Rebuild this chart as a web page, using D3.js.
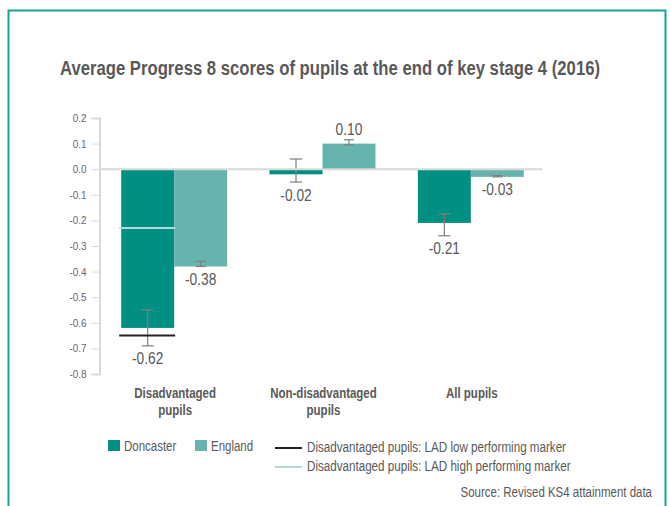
<!DOCTYPE html>
<html>
<head>
<meta charset="utf-8">
<script src="https://cdn.jsdelivr.net/npm/d3@7"></script>
<style>
  body { margin: 0; background: #fff; }
  text { font-family: "Liberation Sans", Arial, sans-serif; }
</style>
</head>
<body>
<svg id="frame" width="670" height="506"></svg>
<script>
// chart data
const categories = ["Disadvantaged pupils", "Non-disadvantaged pupils", "All pupils"];
const categoryLines = [["Disadvantaged", "pupils"], ["Non-disadvantaged", "pupils"], ["All pupils"]];
const series = ["Doncaster", "England"];
const doncaster = [-0.62, -0.02, -0.21];
const england = [-0.38, 0.10, -0.03];
// confidence intervals (low, high)
const doncasterLow = [-0.69, -0.05, -0.26];
const doncasterHigh = [-0.55, 0.04, -0.175];
const englandLow = [-0.38, 0.095, -0.03];
const englandHigh = [-0.36, 0.115, -0.025];
// LAD markers for disadvantaged pupils
const lowMarker = -0.65;
const highMarker = -0.23;
const yTicks = [0.2, 0.1, 0.0, -0.1, -0.2, -0.3, -0.4, -0.5, -0.6, -0.7, -0.8];

const colors = { Doncaster: "#009083", England: "#67b3ae" };
const capWidth = { Doncaster: 12, England: 10 };

// hyphen minus like the original
const loc = d3.formatLocale({ decimal: ".", thousands: ",", grouping: [3], currency: ["", ""], minus: "-" });
const f1 = loc.format(".1f"), f2 = loc.format(".2f");

// squeeze text horizontally to mimic a condensed face
function condense(sel, k) {
  sel.each(function() {
    const w = this.getComputedTextLength();
    d3.select(this).attr("textLength", w * k).attr("lengthAdjust", "spacingAndGlyphs");
  });
}

const svg = d3.select("#frame");

// outer frame
svg.append("path")
  .attr("d", "M8.5,506 V10.5 H665.5 V506")
  .attr("fill", "none")
  .attr("stroke", "#1aa394")
  .attr("stroke-width", 2);

svg.append("text")
  .attr("x", 330).attr("y", 75)
  .attr("text-anchor", "middle")
  .attr("font-size", 20).attr("font-weight", "bold")
  .attr("fill", "#595959")
  .text("Average Progress 8 scores of pupils at the end of key stage 4 (2016)")
  .attr("textLength", 540).attr("lengthAdjust", "spacingAndGlyphs");

const y = d3.scaleLinear().domain([-0.8, 0.2]).range([374, 118]);
const x0 = d3.scaleBand().domain(categories).range([100, 545]);
const x1 = d3.scaleBand().domain(series).range([0, x0.bandwidth()]).paddingOuter(0.4);

// y axis
const yAxis = svg.append("g")
  .attr("transform", "translate(99.5,0)")
  .call(d3.axisLeft(y).tickValues(yTicks).tickFormat(f1).tickSize(8).tickPadding(5));
yAxis.select(".domain").attr("stroke", "#d9d9d9").attr("stroke-width", 2);
yAxis.selectAll(".tick line").attr("stroke", "#d9d9d9");
yAxis.selectAll(".tick text")
  .attr("fill", "#666")
  .attr("font-size", 11)
  .style("font-family", "'Liberation Sans', Arial, sans-serif")
  .call(condense, 0.9);

// rows
const rows = categories.map((c, i) => [
  { cat: c, s: "Doncaster", v: doncaster[i], lo: doncasterLow[i], hi: doncasterHigh[i] },
  { cat: c, s: "England", v: england[i], lo: englandLow[i], hi: englandHigh[i] }
]).flat();

const chart = svg.append("g");

chart.selectAll("rect.bar")
  .data(rows)
  .join("rect")
  .attr("class", "bar")
  .attr("x", d => x0(d.cat) + x1(d.s))
  .attr("width", x1.bandwidth())
  .attr("y", d => y(Math.max(0, d.v)))
  .attr("height", d => Math.abs(y(d.v) - y(0)))
  .attr("fill", d => colors[d.s]);

// zero line
svg.append("line")
  .attr("x1", 99).attr("x2", 542)
  .attr("y1", y(0)).attr("y2", y(0))
  .attr("stroke", "#d9d9d9").attr("stroke-width", 2);

// markers for disadvantaged pupils (across Doncaster bar)
const mx = x0(categories[0]) + x1("Doncaster");
svg.append("line")
  .attr("x1", mx - 2).attr("x2", mx + x1.bandwidth() + 1)
  .attr("y1", y(highMarker)).attr("y2", y(highMarker))
  .attr("stroke", "#b4d9d6").attr("stroke-width", 2);
svg.append("line")
  .attr("x1", mx - 2).attr("x2", mx + x1.bandwidth() + 1)
  .attr("y1", y(lowMarker)).attr("y2", y(lowMarker))
  .attr("stroke", "#222").attr("stroke-width", 2);

// error bars
chart.selectAll("g.err")
  .data(rows)
  .join("g")
  .attr("class", "err")
  .attr("stroke", "#7f7f7f")
  .attr("stroke-width", 1.2)
  .each(function(d) {
    const g = d3.select(this);
    const cx = x0(d.cat) + x1(d.s) + x1.bandwidth() / 2;
    const w = capWidth[d.s] / 2;
    g.append("line").attr("x1", cx).attr("x2", cx).attr("y1", y(d.lo)).attr("y2", y(d.hi));
    g.append("line").attr("x1", cx - w).attr("x2", cx + w).attr("y1", y(d.lo)).attr("y2", y(d.lo));
    g.append("line").attr("x1", cx - w).attr("x2", cx + w).attr("y1", y(d.hi)).attr("y2", y(d.hi));
  });

// value labels
chart.selectAll("text.val")
  .data(rows)
  .join("text")
  .attr("class", "val")
  .attr("x", d => x0(d.cat) + x1(d.s) + x1.bandwidth() / 2)
  .attr("y", d => d.v < 0 ? y(Math.min(d.v, d.lo)) + 13 : y(Math.max(d.v, d.hi)) - 10)
  .attr("dy", "0.35em")
  .attr("text-anchor", "middle")
  .attr("font-size", 16)
  .attr("fill", "#595959")
  .text(d => f2(d.v))
  .call(condense, 0.86);

// category labels
svg.selectAll("text.cat")
  .data(categories)
  .join("text")
  .attr("class", "cat")
  .attr("x", d => x0(d) + x0.bandwidth() / 2 + 1)
  .attr("y", 398)
  .attr("text-anchor", "middle")
  .attr("font-size", 14).attr("font-weight", "bold")
  .attr("fill", "#595959")
  .each(function(d, i) {
    d3.select(this).selectAll("tspan")
      .data(categoryLines[i])
      .join("tspan")
      .attr("x", x0(d) + x0.bandwidth() / 2 + 1)
      .attr("dy", (t, j) => j === 0 ? 0 : 17)
      .text(t => t)
      .call(condense, 0.82);
  });

// legend
const leg = svg.append("g").attr("font-size", 14).attr("fill", "#595959");
[["Doncaster", 108], ["England", 195]].forEach(([s, lx]) => {
  leg.append("rect").attr("x", lx).attr("y", 440).attr("width", 12).attr("height", 11).attr("fill", colors[s]);
  leg.append("text").attr("x", lx + 16).attr("y", 446).attr("dy", "0.35em").text(s).call(condense, 0.82);
});
[["#222", 448, "Disadvantaged pupils: LAD low performing marker"],
 ["#b4d9d6", 467, "Disadvantaged pupils: LAD high performing marker"]].forEach(([c, ly, t]) => {
  leg.append("line").attr("x1", 275).attr("x2", 302).attr("y1", ly).attr("y2", ly).attr("stroke", c).attr("stroke-width", 2);
  leg.append("text").attr("x", 307).attr("y", ly - 1).attr("dy", "0.35em").text(t).call(condense, 0.83);
});

svg.append("text")
  .attr("x", 652).attr("y", 492).attr("dy", "0.35em")
  .attr("text-anchor", "end")
  .attr("font-size", 14)
  .attr("fill", "#595959")
  .text("Source: Revised KS4 attainment data")
  .call(condense, 0.82);
</script>
</body>
</html>
